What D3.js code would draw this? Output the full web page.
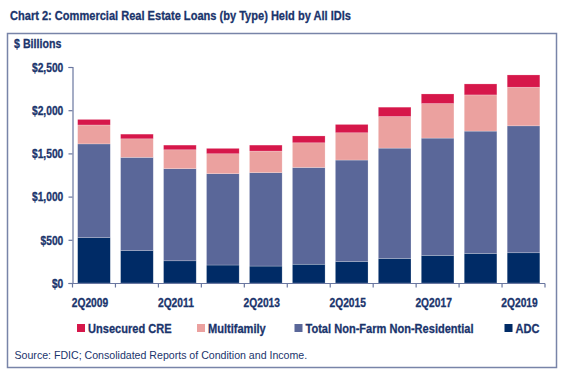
<!DOCTYPE html>
<html>
<head>
<meta charset="utf-8">
<script src="https://cdn.jsdelivr.net/npm/d3@7"></script>
<style>
  body { margin: 0; background: #fff; }
  text { font-family: "Liberation Sans", Arial, sans-serif; font-weight: bold; fill: #1a346c; stroke: #1a346c; stroke-width: 0.3px; }
  text.plain { font-weight: normal; stroke: none; }
</style>
</head>
<body>
<div id="container"></div>
<script>
const quarters = ["2Q2009","2Q2010","2Q2011","2Q2012","2Q2013","2Q2014","2Q2015","2Q2016","2Q2017","2Q2018","2Q2019"];
const adc         = [526, 376, 257, 208, 196, 217, 249, 284, 319, 342, 350];
const nonFarmNR   = [1084, 1078, 1066, 1057, 1081, 1120, 1174, 1277, 1358, 1416, 1469];
const multifamily = [219, 215, 219, 231, 250, 286, 316, 366, 400, 419, 447];
const unsecured   = [64, 54, 54, 62, 69, 79, 96, 108, 111, 127, 142];
const yTicks = [0, 500, 1000, 1500, 2000, 2500];
const xLabels = ["2Q2009","2Q2011","2Q2013","2Q2015","2Q2017","2Q2019"];

const seriesKeys = ["adc", "nfnr", "mf", "unsec"];
const seriesNames = {unsec: "Unsecured CRE", mf: "Multifamily", nfnr: "Total Non-Farm Non-Residential", adc: "ADC"};
const colors = {adc: "#002b66", nfnr: "#5a6799", mf: "#eba19f", unsec: "#d6174a"};

const rows = quarters.map((q, i) => ({q, adc: adc[i], nfnr: nonFarmNR[i], mf: multifamily[i], unsec: unsecured[i]}));

// no narrow font installed, so squeeze Liberation Sans Bold horizontally
const NARROW = 0.82;
const at = (x, y) => `translate(${x},${y}) scale(${NARROW},1)`;

const W = 566, H = 371;
const svg = d3.select("#container").append("svg")
  .attr("width", W)
  .attr("height", H);

// title
svg.append("text")
  .attr("transform", at(10, 20))
  .style("font-size", "13.5px")
  .text("Chart 2: Commercial Real Estate Loans (by Type) Held by All IDIs");

// frame
svg.append("rect")
  .attr("x", 7.5).attr("y", 33.5)
  .attr("width", 549).attr("height", 334)
  .attr("fill", "none")
  .attr("stroke", "#7884a8")
  .attr("stroke-width", 1.5);

svg.append("text")
  .attr("transform", at(14, 48))
  .style("font-size", "13px")
  .text("$ Billions");

const x = d3.scaleBand()
  .domain(quarters)
  .range([72.5, 545])
  .paddingInner(0.24)
  .paddingOuter(0.12);

const y = d3.scaleLinear()
  .domain([0, 2500])
  .range([283, 67]);

const stack = d3.stack().keys(seriesKeys)(rows);

svg.append("g")
  .selectAll("g")
  .data(stack)
  .join("g")
  .attr("fill", d => colors[d.key])
  .selectAll("rect")
  .data(d => d)
  .join("rect")
  .attr("x", d => x(d.data.q))
  .attr("width", x.bandwidth())
  .attr("y", d => y(d[1]))
  .attr("height", d => y(d[0]) - y(d[1]))
  .attr("stroke", "#ffffff")
  .attr("stroke-opacity", 0.35)
  .attr("stroke-width", 0.6);

// y axis
const yAxis = svg.append("g")
  .attr("transform", "translate(72.5,0)")
  .call(d3.axisLeft(y).tickValues(yTicks).tickSize(4)
    .tickFormat(d => "$" + d3.format(",")(d)));
yAxis.select(".domain").attr("stroke", "#6a77a0").attr("stroke-width", 1.2);
yAxis.selectAll(".tick line").attr("stroke", "#6a77a0").attr("stroke-width", 1.2);
yAxis.selectAll(".tick text")
  .attr("x", null)
  .attr("dy", null)
  .attr("transform", at(-9.2, 4.3))
  .style("font-size", "12.5px")
  .attr("fill", "#1a346c");

// x axis with ticks at band edges
const step = x.step();
const edges = quarters.map(q => x(q) - x.paddingInner() * step / 2);
edges.push(x(quarters[quarters.length - 1]) + x.bandwidth() + x.paddingInner() * step / 2);
const xAxis = svg.append("g");
xAxis.append("line")
  .attr("x1", 72.5).attr("x2", edges[edges.length - 1])
  .attr("y1", 283.5).attr("y2", 283.5)
  .attr("stroke", "#6a77a0").attr("stroke-width", 1.2);
xAxis.selectAll(".xt")
  .data(edges)
  .join("line")
  .attr("class", "xt")
  .attr("x1", d => d).attr("x2", d => d)
  .attr("y1", 283.5).attr("y2", 287.5)
  .attr("stroke", "#6a77a0").attr("stroke-width", 1.2);
xAxis.selectAll(".xl")
  .data(xLabels)
  .join("text")
  .attr("class", "xl")
  .attr("transform", d => at(x(d) + x.bandwidth() / 2 - 4, 307))
  .attr("text-anchor", "middle")
  .style("font-size", "12.5px")
  .text(d => d);

// legend
const legendItems = [
  {key: "unsec", x: 77},
  {key: "mf", x: 197},
  {key: "nfnr", x: 294.5},
  {key: "adc", x: 504.5}
];
const lg = svg.append("g").selectAll("g")
  .data(legendItems)
  .join("g")
  .attr("transform", d => `translate(${d.x},324)`);
lg.append("rect")
  .attr("width", 8).attr("height", 8)
  .attr("fill", d => colors[d.key]);
lg.append("text")
  .attr("transform", at(11, 9))
  .style("font-size", "13.5px")
  .text(d => seriesNames[d.key]);

// source
svg.append("text")
  .attr("class", "plain")
  .attr("x", 14.5).attr("y", 359)
  .style("font-size", "10.6px")
  .text("Source: FDIC; Consolidated Reports of Condition and Income.");
</script>
</body>
</html>
